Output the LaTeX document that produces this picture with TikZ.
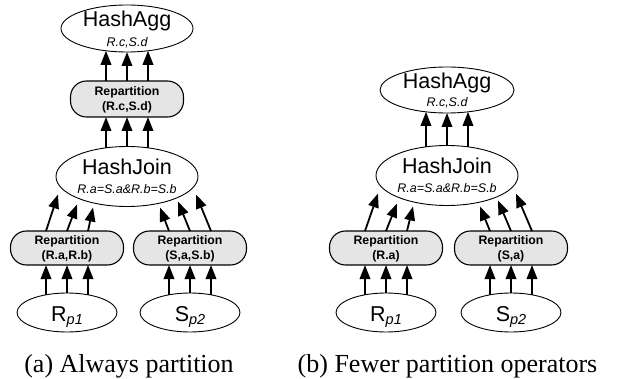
\documentclass[tikz,border=0pt]{standalone}
\usepackage{fontspec}
\setmainfont{Liberation Serif}
\newfontfamily\arialf{Liberation Sans}
\usetikzlibrary{arrows.meta,calc,shapes.geometric}
\newcommand\subtxt[1]{\raisebox{-3pt}{\fontsize{14.5}{15}\selectfont\itshape #1}}
\begin{document}
\begin{tikzpicture}[x=1pt,y=-1pt,
  ell/.style={draw, ellipse, line width=0.9pt, inner sep=0pt, outer sep=0pt},
  big/.style={font=\arialf\fontsize{21.5}{24}\selectfont, inner sep=0pt},
  sub/.style={font=\arialf\itshape\fontsize{12.5}{14}\selectfont, inner sep=0pt},
  rtxt/.style={font=\arialf\bfseries\fontsize{12.3}{14}\selectfont, inner sep=0pt},
  repbox/.style={draw, fill=black!10, line width=1.1pt, rounded corners=16pt, minimum width=113pt, minimum height=34pt, inner sep=0pt, outer sep=0pt},
  arr/.style={line width=1.8pt, -{Triangle[length=14pt,width=10.5pt]}},
  captxt/.style={font=\fontsize{26}{28}\selectfont, inner sep=0pt}]
\useasboundingbox (0,0) rectangle (618,379);

% ---------- (a) ----------
\node[ell, minimum width=132pt, minimum height=47pt] (aggA) at (127,28.5) {};
\node[big, anchor=base] (aggAt) at (127,27) {HashAgg};
\node[sub, anchor=base] (aggAs) at (127,46.5) {R.c,S.d};

\node[repbox, minimum height=36pt] (repA) at (127,99) {};
\node[rtxt, anchor=base] (repAt1) at (127,96) {Repartition};
\node[rtxt, anchor=base] (repAt2) at (127,110.5) {(R.c,S.d)};

\node[ell, minimum width=142pt, minimum height=60pt] (hjA) at (127,176.5) {};
\node[big, anchor=base] (hjAt) at (127,174.5) {HashJoin};
\node[sub, anchor=base] (hjAs) at (127,194) {R.a=S.a\&R.b=S.b};

\node[repbox] (repA1) at (67,248) {};
\node[rtxt, anchor=base] (repA1t1) at (67,245) {Repartition};
\node[rtxt, anchor=base] (repA1t2) at (67,259.5) {(R.a,R.b)};

\node[repbox] (repA2) at (190,248) {};
\node[rtxt, anchor=base] (repA2t1) at (190,245) {Repartition};
\node[rtxt, anchor=base] (repA2t2) at (190,259.5) {(S,a,S.b)};

\node[ell, minimum width=100pt, minimum height=39pt] (rA) at (67,312.5) {};
\node[big, anchor=base] (rAt) at (67,321.5) {R\subtxt{p1}};
\node[ell, minimum width=100pt, minimum height=39pt] (sA) at (190,312.5) {};
\node[big, anchor=base] (sAt) at (190,321.5) {S\subtxt{p2}};

\foreach \d in {-21,0,21} {
  \draw[arr] ($(repA.north)+(\d,0)$) -- ($(aggA.south)+(\d,{-23.5*(1-sqrt(1-(\d/66)^2))})$);
  \draw[arr] ($(hjA.north)+(\d,{30*(1-sqrt(1-(\d/71)^2))})$) -- ($(repA.south)+(\d,0)$);
  \draw[arr] ($(rA.north)+(\d,{19.5*(1-sqrt(1-(\d/50)^2))})$) -- ($(repA1.south)+(\d,0)$);
  \draw[arr] ($(sA.north)+(\d,{19.5*(1-sqrt(1-(\d/50)^2))})$) -- ($(repA2.south)+(\d,0)$);
}
\draw[arr] ($(repA1.north)+(-21,0)$) -- ($(hjA.center)+(-69,18)$);
\draw[arr] ($(repA1.north)+(0,0)$) -- ($(hjA.center)+(-50,28)$);
\draw[arr] ($(repA1.north)+(21,0)$) -- ($(hjA.center)+(-34,31)$);
\draw[arr] ($(repA2.north)+(-21,0)$) -- ($(hjA.center)+(33,31)$);
\draw[arr] ($(repA2.north)+(0,0)$) -- ($(hjA.center)+(51,25)$);
\draw[arr] ($(repA2.north)+(21,0)$) -- ($(hjA.center)+(69,18)$);

% ---------- (b) ----------
\node[ell, minimum width=134pt, minimum height=46pt] (aggB) at (447,90) {};
\node[big, anchor=base] (aggBt) at (447,88.5) {HashAgg};
\node[sub, anchor=base] (aggBs) at (447,107) {R.c,S.d};

\node[ell, minimum width=142pt, minimum height=60pt] (hjB) at (447,175.5) {};
\node[big, anchor=base] (hjBt) at (447,173.5) {HashJoin};
\node[sub, anchor=base] (hjBs) at (447,193) {R.a=S.a\&R.b=S.b};

\node[repbox] (repB1) at (386,248) {};
\node[rtxt, anchor=base] (repB1t1) at (386,245) {Repartition};
\node[rtxt, anchor=base] (repB1t2) at (386,259.5) {(R.a)};

\node[repbox] (repB2) at (511,248) {};
\node[rtxt, anchor=base] (repB2t1) at (511,245) {Repartition};
\node[rtxt, anchor=base] (repB2t2) at (511,259.5) {(S,a)};

\node[ell, minimum width=100pt, minimum height=39pt] (rB) at (386,312.5) {};
\node[big, anchor=base] (rBt) at (386,321.5) {R\subtxt{p1}};
\node[ell, minimum width=100pt, minimum height=39pt] (sB) at (511,312.5) {};
\node[big, anchor=base] (sBt) at (511,321.5) {S\subtxt{p2}};

\foreach \d in {-21,0,21} {
  \draw[arr] ($(hjB.north)+(\d,{30*(1-sqrt(1-(\d/71)^2))})$) -- ($(aggB.south)+(\d,{-23*(1-sqrt(1-(\d/67)^2))})$);
  \draw[arr] ($(rB.north)+(\d,{19.5*(1-sqrt(1-(\d/50)^2))})$) -- ($(repB1.south)+(\d,0)$);
  \draw[arr] ($(sB.north)+(\d,{19.5*(1-sqrt(1-(\d/50)^2))})$) -- ($(repB2.south)+(\d,0)$);
}
\draw[arr] ($(repB1.north)+(-21,0)$) -- ($(hjB.center)+(-69,18)$);
\draw[arr] ($(repB1.north)+(0,0)$) -- ($(hjB.center)+(-50,28)$);
\draw[arr] ($(repB1.north)+(21,0)$) -- ($(hjB.center)+(-34,31)$);
\draw[arr] ($(repB2.north)+(-21,0)$) -- ($(hjB.center)+(33,31)$);
\draw[arr] ($(repB2.north)+(0,0)$) -- ($(hjB.center)+(51,25)$);
\draw[arr] ($(repB2.north)+(21,0)$) -- ($(hjB.center)+(69,18)$);

% ---------- captions ----------
\node[captxt, anchor=base] (capA) at (129,372) {(a) Always partition};
\node[captxt, anchor=base] (capB) at (447.5,372) {(b) Fewer partition operators};
\end{tikzpicture}
\end{document}
